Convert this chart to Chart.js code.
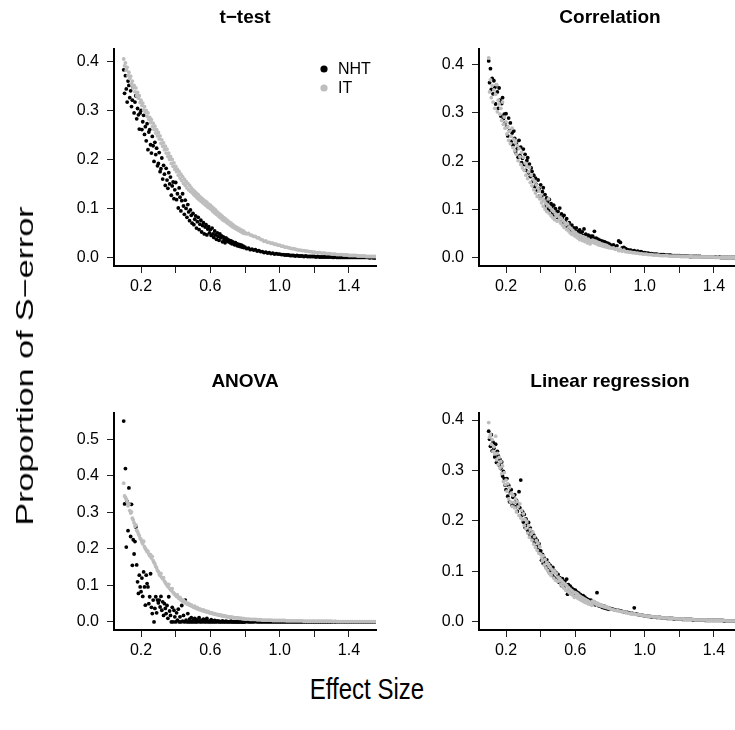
<!DOCTYPE html>
<html>
<head>
<meta charset="utf-8">
<script src="https://cdn.jsdelivr.net/npm/chart.js@4.4.1/dist/chart.umd.min.js"></script>
<style>
html, body { margin: 0; padding: 0; background: #fff; overflow: hidden; width: 735px; height: 730px; }
body { position: relative; font-family: "Liberation Sans", Arial, sans-serif; }
canvas { position: absolute; }
.lab { position: absolute; white-space: nowrap; font-size: 24px; line-height: 28px; color: #000; }
#ylab { left: 25px; top: 366px; transform: translate(-50%, -50%) rotate(-90deg) scaleX(1.42); }
#xlab { left: 367px; top: 689px; transform: translate(-50%, -50%) scaleY(1.25); }
</style>
</head>
<body>
<canvas id="p0" width="380" height="300" style="left:0px;top:0px"></canvas>
<canvas id="p1" width="380" height="300" style="left:365px;top:0px"></canvas>
<canvas id="p2" width="380" height="300" style="left:0px;top:364px"></canvas>
<canvas id="p3" width="380" height="300" style="left:365px;top:364px"></canvas>
<div class="lab" id="ylab">Proportion of S&minus;error</div>
<div class="lab" id="xlab">Effect Size</div>
<script>
// effect sizes (shared by every panel)
const EFFECT = [
  .100,.105,.110,.115,.120,.125,.130,.135,.140,.145,.150,.155,.160,.165,.170,.175,.180,.185,.190,.195,
  .200,.205,.210,.215,.220,.225,.230,.235,.240,.245,.250,.255,.260,.265,.270,.275,.280,.285,.290,.295,
  .300,.305,.310,.315,.320,.325,.330,.335,.340,.345,.350,.355,.360,.365,.370,.375,.380,.385,.390,.395,
  .400,.405,.410,.415,.420,.425,.430,.435,.440,.445,.450,.455,.460,.465,.470,.475,.480,.485,.490,.495,
  .500,.505,.510,.515,.520,.525,.530,.535,.540,.545,.550,.555,.560,.565,.570,.575,.580,.585,.590,.595,
  .600,.605,.610,.615,.620,.625,.630,.635,.640,.645,.650,.655,.660,.665,.670,.675,.680,.685,.690,.695,
  .700,.705,.710,.715,.720,.725,.730,.735,.740,.745,.750,.755,.760,.765,.770,.775,.780,.785,.790,.795,
  .80,.81,.82,.83,.84,.85,.86,.87,.88,.89,
  .90,.91,.92,.93,.94,.95,.96,.97,.98,.99,
  1.00,1.01,1.02,1.03,1.04,1.05,1.06,1.07,1.08,1.09,
  1.10,1.11,1.12,1.13,1.14,1.15,1.16,1.17,1.18,1.19,
  1.20,1.21,1.22,1.23,1.24,1.25,1.26,1.27,1.28,1.29,
  1.30,1.31,1.32,1.33,1.34,1.35,1.36,1.37,1.38,1.39,
  1.40,1.41,1.42,1.43,1.44,1.45,1.46,1.47,1.48,1.49,
  1.50,1.51,1.52,1.53,1.54,1.55
];

const TTEST_NHT = [
  .384,.336,.372,.345,.318,.361,.352,.327,.341,.309,.322,.348,.296,.318,.331,.284,.305,.292,.263,.296,
  .301,.262,.278,.291,.252,.268,.239,.274,.221,.257,.262,.231,.214,.248,.229,.197,.236,.211,.224,.188,
  .193,.215,.176,.182,.204,.161,.189,.171,.148,.183,.159,.142,.174,.151,.165,.128,.147,.155,.121,.139,
  .154,.119,.131,.102,.143,.124,.096,.117,.131,.106,.089,.118,.101,.083,.109,.094,.076,.098,.087,.071,
  .091,.068,.079,.086,.061,.074,.083,.058,.069,.077,.053,.066,.072,.049,.063,.068,.047,.059,.064,.051,
  .058,.046,.061,.049,.042,.055,.047,.038,.051,.044,.036,.049,.041,.045,.033,.043,.038,.031,.041,.035,
  .038,.033,.036,.031,.035,.029,.033,.030,.027,.031,.029,.025,.028,.024,.027,.023,.026,.022,.024,.021,
  .022,.019,.020,.017,.018,.016,.017,.014,.015,.013,
  .013,.011,.012,.010,.011,.009,.010,.008,.009,.008,
  .008,.007,.007,.006,.006,.006,.005,.005,.005,.004,
  .005,.004,.004,.004,.003,.004,.003,.003,.003,.003,
  .003,.002,.003,.002,.002,.002,.002,.002,.002,.002,
  .002,.001,.002,.001,.001,.001,.001,.001,.001,.001,
  .001,.001,.001,.001,.001,.001,.001,.001,.001,.001,
  .001,.001,.000,.001,.000,.000
];
const TTEST_IT = [
  .406,.392,.398,.383,.389,.372,.379,.366,.371,.355,.361,.348,.352,.339,.347,.331,.338,.326,.331,.317,
  .322,.311,.316,.302,.309,.297,.301,.289,.296,.283,.287,.276,.282,.268,.275,.262,.269,.255,.262,.249,
  .256,.243,.249,.234,.241,.228,.235,.221,.228,.214,.222,.207,.214,.201,.207,.193,.201,.187,.194,.181,
  .187,.176,.181,.169,.176,.163,.171,.158,.166,.152,.161,.148,.156,.143,.152,.139,.148,.136,.143,.133,
  .139,.129,.136,.126,.132,.122,.129,.119,.125,.116,.122,.113,.119,.110,.116,.107,.114,.104,.110,.102,
  .108,.099,.104,.095,.101,.092,.098,.089,.094,.086,.091,.083,.088,.080,.085,.077,.082,.075,.079,.072,
  .076,.070,.073,.067,.071,.064,.068,.062,.065,.060,.063,.058,.061,.056,.059,.054,.057,.052,.055,.050,
  .052,.049,.050,.047,.046,.044,.044,.041,.041,.038,
  .037,.034,.035,.032,.032,.030,.030,.028,.028,.026,
  .026,.024,.024,.022,.022,.021,.020,.019,.019,.018,
  .017,.016,.016,.015,.015,.014,.014,.013,.013,.012,
  .012,.011,.011,.011,.010,.010,.010,.009,.009,.009,
  .008,.008,.008,.007,.007,.007,.007,.006,.006,.006,
  .005,.005,.005,.005,.005,.004,.004,.004,.004,.004,
  .003,.003,.003,.003,.003,.003
];

const CORR_NHT = [
  .407,.362,.391,.348,.371,.339,.366,.352,.318,.357,.343,.309,.351,.326,.293,.319,.331,.288,.297,.279,
  .298,.271,.252,.289,.263,.279,.241,.258,.233,.262,.247,.219,.238,.226,.208,.243,.212,.229,.197,.206,
  .225,.193,.214,.181,.201,.207,.176,.194,.168,.186,.179,.158,.171,.147,.165,.152,.139,.161,.143,.128,
  .151,.127,.137,.145,.119,.131,.108,.124,.116,.102,.121,.098,.112,.106,.093,.109,.088,.102,.095,.084,
  .096,.087,.103,.079,.091,.083,.072,.088,.076,.066,.081,.069,.059,.073,.064,.055,.068,.058,.062,.051,
  .056,.062,.049,.055,.047,.058,.051,.043,.054,.046,.060,.041,.049,.044,.038,.047,.042,.036,.045,.039,
  .045,.040,.055,.038,.041,.036,.039,.034,.037,.032,.035,.031,.034,.029,.033,.028,.031,.027,.030,.026,
  .028,.025,.027,.023,.025,.035,.032,.021,.022,.019,
  .017,.016,.016,.014,.015,.013,.014,.012,.013,.011,
  .011,.010,.010,.009,.009,.008,.008,.008,.007,.007,
  .007,.007,.006,.006,.006,.006,.005,.005,.005,.005,
  .005,.004,.004,.004,.004,.004,.003,.003,.003,.003,
  .003,.003,.003,.002,.002,.002,.002,.002,.002,.002,
  .002,.002,.002,.002,.001,.001,.001,.001,.001,.001,
  .001,.001,.001,.001,.001,.001
];
const CORR_IT = [
  .413,.343,.368,.331,.356,.322,.347,.309,.338,.358,.302,.326,.318,.297,.309,.284,.322,.276,.291,.268,
  .281,.256,.271,.243,.262,.236,.251,.268,.228,.245,.221,.239,.214,.232,.201,.226,.209,.193,.218,.186,
  .208,.181,.196,.171,.189,.164,.178,.187,.156,.171,.149,.163,.141,.158,.134,.151,.127,.144,.138,.122,
  .129,.114,.122,.107,.118,.101,.113,.096,.108,.122,.092,.104,.087,.099,.083,.096,.079,.091,.086,.076,
  .089,.078,.084,.072,.081,.068,.077,.063,.073,.069,.059,.071,.056,.064,.052,.061,.049,.057,.053,.046,
  .053,.044,.049,.041,.047,.038,.046,.043,.036,.044,.039,.034,.042,.037,.031,.039,.035,.029,.036,.032,
  .037,.032,.035,.030,.034,.029,.032,.027,.031,.026,.029,.025,.028,.024,.027,.023,.026,.022,.024,.021,
  .022,.020,.021,.018,.019,.015,.018,.014,.016,.013,
  .013,.012,.012,.011,.011,.010,.010,.009,.009,.008,
  .008,.008,.007,.007,.007,.006,.006,.006,.006,.005,
  .005,.005,.005,.005,.004,.004,.004,.004,.004,.004,
  .004,.003,.003,.003,.003,.003,.003,.003,.002,.002,
  .002,.002,.002,.002,.002,.002,.002,.002,.002,.002,
  .002,.001,.002,.001,.001,.001,.001,.001,.001,.001,
  .001,.001,.001,.001,.001,.001
];

const ANOVA_NHT = [
  .550,.323,.420,.205,.330,.250,.367,.322,.234,.322,.155,.225,.186,.220,.260,.156,.110,.078,.128,.096,
  .083,.120,.070,.137,.096,.046,.128,.105,.096,.050,.069,.132,.040,.023,.060,.000,.037,.069,.025,.060,
  .052,.060,.041,.070,.032,.055,.018,.050,.037,.023,.045,.010,.069,.030,.018,.000,.040,.000,.032,.014,
  .000,.025,.005,.035,.000,.014,.000,.045,.002,.018,.000,.060,.005,.000,.023,.000,.008,.000,.012,.000,
  .004,.000,.010,.000,.006,.000,.003,.012,.000,.005,.000,.002,.008,.000,.004,.000,.010,.001,.000,.003,
  .000,.006,.000,.002,.000,.004,.000,.001,.003,.000,.002,.000,.001,.000,.003,.000,.001,.000,.002,.000,
  .001,.000,.001,.000,.002,.000,.000,.001,.000,.000,.001,.000,.000,.000,.001,.000,.000,.000,.000,.000,
  .000,.001,.000,.000,.000,.000,.001,.000,.000,.000,
  .000,.000,.000,.000,.000,.000,.000,.000,.000,.000,
  .000,.000,.000,.000,.000,.000,.000,.000,.000,.000,
  .000,.000,.000,.000,.000,.000,.000,.000,.000,.000,
  .000,.000,.000,.000,.000,.000,.000,.000,.000,.000,
  .000,.000,.000,.000,.000,.000,.000,.000,.000,.000,
  .000,.000,.000,.000,.000,.000,.000,.000,.000,.000,
  .000,.000,.000,.000,.000,.000
];
const ANOVA_IT = [
  .380,.345,.341,.336,.329,.318,.322,.305,.298,.301,.284,.279,.271,.262,.266,.251,.247,.241,.236,.229,
  .226,.219,.214,.221,.206,.201,.197,.192,.194,.186,.181,.184,.175,.179,.168,.163,.159,.152,.148,.141,
  .138,.131,.127,.133,.122,.118,.121,.112,.108,.104,.101,.097,.103,.092,.089,.086,.091,.081,.078,.076,
  .073,.070,.074,.066,.064,.067,.060,.061,.057,.059,.055,.052,.054,.050,.048,.051,.046,.045,.047,.043,
  .042,.040,.043,.038,.037,.039,.035,.034,.036,.033,.032,.031,.033,.029,.029,.030,.027,.027,.028,.025,
  .025,.024,.025,.023,.022,.023,.021,.021,.020,.020,.019,.019,.018,.017,.018,.016,.016,.016,.015,.015,
  .014,.014,.014,.013,.013,.013,.012,.012,.012,.011,.011,.011,.011,.010,.010,.010,.010,.009,.009,.009,
  .008,.008,.008,.007,.007,.007,.007,.006,.006,.006,
  .005,.005,.005,.005,.005,.005,.004,.004,.004,.004,
  .004,.004,.004,.004,.003,.003,.003,.003,.003,.003,
  .003,.003,.003,.003,.002,.002,.002,.002,.002,.002,
  .002,.002,.002,.002,.002,.002,.002,.002,.002,.002,
  .002,.001,.002,.001,.001,.001,.001,.001,.001,.001,
  .001,.001,.001,.001,.001,.001,.001,.001,.001,.001,
  .001,.001,.001,.001,.001,.001
];

const LINREG_NHT = [
  .378,.362,.348,.371,.339,.356,.344,.327,.352,.316,.338,.329,.311,.322,.304,.317,.289,.298,.284,.271,
  .262,.284,.249,.271,.238,.256,.262,.231,.247,.236,.252,.228,.241,.219,.233,.258,.226,.281,.211,.219,
  .198,.213,.187,.204,.192,.181,.197,.174,.186,.169,.178,.163,.172,.158,.166,.149,.161,.143,.155,.138,
  .141,.122,.134,.116,.127,.119,.109,.123,.104,.116,.099,.112,.101,.094,.108,.089,.101,.086,.097,.083,
  .094,.079,.088,.083,.072,.086,.077,.069,.081,.073,.085,.055,.074,.066,.071,.062,.067,.059,.064,.057,
  .063,.055,.059,.051,.057,.048,.054,.049,.045,.052,.043,.049,.041,.046,.039,.044,.041,.037,.043,.036,
  .040,.036,.039,.034,.037,.058,.035,.032,.034,.031,.033,.029,.032,.028,.031,.027,.029,.026,.028,.025,
  .027,.026,.025,.024,.023,.023,.022,.021,.020,.019,
  .019,.018,.017,.017,.028,.016,.015,.014,.014,.013,
  .012,.012,.011,.011,.010,.010,.010,.009,.009,.009,
  .008,.008,.008,.007,.007,.007,.007,.006,.006,.006,
  .006,.006,.005,.005,.005,.005,.005,.005,.004,.004,
  .004,.004,.004,.004,.004,.003,.003,.003,.003,.003,
  .003,.003,.003,.003,.003,.003,.002,.002,.002,.002,
  .002,.002,.002,.002,.002,.002
];
const LINREG_IT = [
  .395,.366,.371,.352,.361,.338,.347,.333,.368,.321,.334,.312,.326,.305,.318,.294,.309,.278,.296,.272,
  .281,.259,.274,.244,.266,.238,.255,.229,.251,.237,.226,.244,.218,.239,.228,.211,.234,.206,.221,.203,
  .214,.191,.203,.185,.198,.176,.191,.168,.183,.174,.162,.178,.154,.169,.148,.161,.142,.156,.136,.149,
  .134,.127,.121,.131,.113,.124,.107,.118,.102,.114,.096,.109,.092,.104,.098,.087,.101,.083,.096,.081,
  .089,.081,.086,.074,.082,.071,.078,.067,.075,.063,.072,.061,.068,.058,.065,.055,.062,.053,.059,.049,
  .058,.052,.056,.047,.053,.045,.050,.043,.048,.041,.046,.039,.044,.038,.042,.036,.040,.035,.038,.033,
  .041,.038,.040,.036,.038,.035,.037,.033,.035,.032,.034,.031,.032,.030,.031,.029,.030,.028,.029,.027,
  .026,.025,.024,.023,.023,.022,.021,.020,.020,.019,
  .018,.017,.017,.016,.016,.015,.015,.014,.014,.013,
  .012,.012,.011,.011,.011,.010,.010,.010,.009,.009,
  .008,.008,.008,.008,.007,.007,.007,.007,.006,.006,
  .006,.006,.006,.005,.005,.005,.005,.005,.005,.004,
  .004,.004,.004,.004,.004,.004,.003,.003,.003,.003,
  .003,.003,.003,.003,.003,.003,.003,.002,.002,.002,
  .002,.002,.002,.002,.002,.002
];

const X_TICKS = [0.2, 0.4, 0.6, 0.8, 1.0, 1.2, 1.4];
const X_TICK_LABELS = ["0.2", "", "0.6", "", "1.0", "", "1.4"];
const X_LIMITS = [0.1, 1.5];
const Y_TICKS_SMALL = [0, 0.1, 0.2, 0.3, 0.4];
const Y_TICKS_ANOVA = [0, 0.1, 0.2, 0.3, 0.4, 0.5];
const SERIES_NAMES = ["NHT", "IT"];

const BLACK = "#000000";
const GREY = "#bebebe";
const FONT = '"Liberation Sans", Arial, Helvetica, sans-serif';

Chart.defaults.font.family = FONT;
Chart.defaults.color = "#000";

// R style: extend the data range by 4% on each side
function rRange(lo, hi) {
    let d = (hi - lo) * 0.04;
    return [lo - d, hi + d];
}

function toPoints(values) {
    return EFFECT.map((x, i) => ({ x: x, y: values[i] }));
}

const panelDecor = {
    id: "panelDecor",
    afterDraw(chart, args, opts) {
        let ctx = chart.ctx, ca = chart.chartArea;
        ctx.save();
        ctx.fillStyle = "#000";
        ctx.font = "bold 19px " + FONT;
        ctx.textAlign = "center";
        ctx.textBaseline = "middle";
        ctx.fillText(opts.title, (ca.left + ca.right) / 2, 18);
        if (opts.legend) {
            let colors = [BLACK, GREY];
            ctx.font = "16px " + FONT;
            ctx.textAlign = "left";
            SERIES_NAMES.forEach((name, i) => {
                let y = 69 + i * 19;
                ctx.fillStyle = colors[i];
                ctx.beginPath();
                ctx.arc(324, y, 3.6, 0, Math.PI * 2);
                ctx.fill();
                ctx.fillStyle = "#000";
                ctx.fillText(name, 338, y + 1);
            });
        }
        ctx.restore();
    }
};

function makePanel(id, title, nht, it, yMax, yTicks, legend) {
    let xr = rRange(X_LIMITS[0], X_LIMITS[1]);
    let yr = rRange(0, yMax);
    new Chart(document.getElementById(id), {
        type: "scatter",
        data: {
            datasets: [
                { label: "NHT", data: toPoints(nht), backgroundColor: BLACK, pointRadius: 1.9, borderWidth: 0, order: 2 },
                { label: "IT", data: toPoints(it), backgroundColor: GREY, pointRadius: 1.9, borderWidth: 0, order: 1 }
            ]
        },
        options: {
            responsive: false,
            animation: false,
            events: [],
            layout: { padding: { top: 49, right: 1, left: 0, bottom: 0 } },
            plugins: {
                legend: { display: false },
                tooltip: { enabled: false },
                panelDecor: { title: title, legend: legend }
            },
            scales: {
                x: {
                    type: "linear",
                    min: xr[0],
                    max: xr[1],
                    afterBuildTicks: s => { s.ticks = X_TICKS.map(v => ({ value: v })); },
                    afterFit: s => { s.height = 34; },
                    ticks: {
                        autoSkip: false,
                        maxRotation: 0,
                        padding: 4,
                        font: { size: 16 },
                        color: "#000",
                        callback: (v, i) => X_TICK_LABELS[i]
                    },
                    grid: { drawOnChartArea: false, tickLength: 7, color: "#222", lineWidth: 1 },
                    border: { display: true, color: "#000", width: 2 }
                },
                y: {
                    type: "linear",
                    min: yr[0],
                    max: yr[1],
                    afterBuildTicks: s => { s.ticks = yTicks.map(v => ({ value: v })); },
                    afterFit: s => { s.width = 114; },
                    ticks: {
                        autoSkip: false,
                        padding: 8,
                        font: { size: 16 },
                        color: "#000",
                        callback: v => v.toFixed(1)
                    },
                    grid: { drawOnChartArea: false, tickLength: 7, color: "#222", lineWidth: 1 },
                    border: { display: true, color: "#000", width: 2 }
                }
            }
        },
        plugins: [panelDecor]
    });
}

makePanel("p0", "t\u2212test", TTEST_NHT, TTEST_IT, 0.41, Y_TICKS_SMALL, true);
makePanel("p1", "Correlation", CORR_NHT, CORR_IT, 0.415, Y_TICKS_SMALL, false);
makePanel("p2", "ANOVA", ANOVA_NHT, ANOVA_IT, 0.55, Y_TICKS_ANOVA, false);
makePanel("p3", "Linear regression", LINREG_NHT, LINREG_IT, 0.398, Y_TICKS_SMALL, false);
</script>
</body>
</html>
